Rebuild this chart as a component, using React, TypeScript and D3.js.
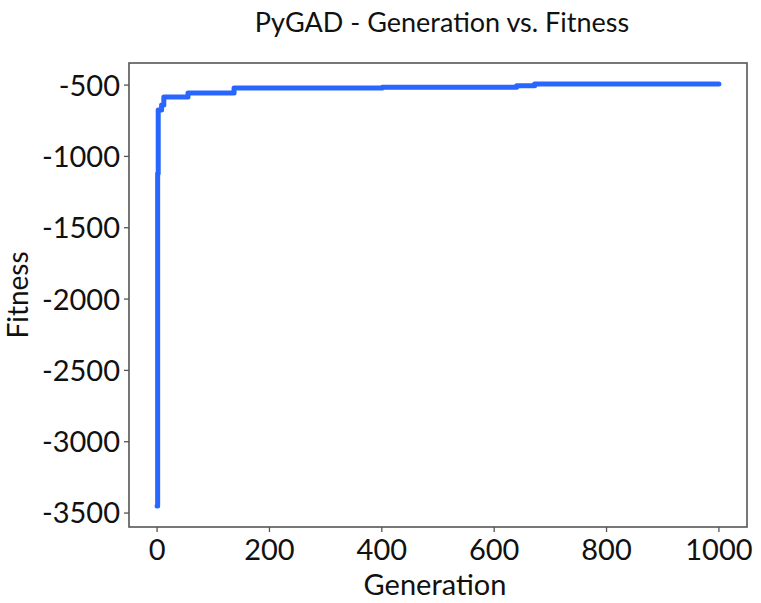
import React, { useEffect, useRef } from "react";
import * as d3 from "d3";

const generations = [0, 1, 2, 8, 12, 55, 137, 401, 640, 672, 1000];
const fitness = [-3450, -1120, -675, -640, -584, -556, -521, -516, -505, -493, -493];
const xTicks = [0, 200, 400, 600, 800, 1000];
const yTicks = [-3500, -3000, -2500, -2000, -1500, -1000, -500];
const title = "PyGAD - Generation vs. Fitness";
const xLabel = "Generation";
const yLabel = "Fitness";

const W = 761;
const H = 603;
const M = { left: 129, right: 14, top: 63, bottom: 76 };
const FONT = "Lato, 'Open Sans', sans-serif";

export default function App() {
  const ref = useRef<SVGSVGElement | null>(null);

  useEffect(() => {
    const svg = d3.select(ref.current);
    svg.selectAll("*").remove();
    const x0 = M.left, x1 = W - M.right, y0 = M.top, y1 = H - M.bottom;

    const xs = d3.scaleLinear().domain([-50, 1050]).range([x0, x1]);
    const yMin = d3.min(fitness) as number;
    const yMax = d3.max(fitness) as number;
    const pad = (yMax - yMin) * 0.05;
    const ys = d3.scaleLinear().domain([yMin - pad, yMax + pad]).range([y1, y0]);

    svg.append("rect").attr("width", W).attr("height", H).attr("fill", "#fff");

    // title
    svg.append("text").attr("x", 442).attr("y", 32).attr("text-anchor", "middle")
      .attr("font-family", FONT).attr("font-size", 27).attr("fill", "#111").text(title);

    // line
    const pts = generations.map((g, i) => [g, fitness[i]] as [number, number]);
    const line = d3.line<[number, number]>()
      .x((d) => xs(d[0]))
      .y((d) => ys(d[1]))
      .curve(d3.curveStepAfter);
    svg.append("path").attr("d", line(pts) as string).attr("fill", "none")
      .attr("stroke", "#2866ff").attr("stroke-width", 5)
      .attr("stroke-linejoin", "round").attr("stroke-linecap", "round");

    // frame
    svg.append("rect").attr("x", x0).attr("y", y0).attr("width", x1 - x0).attr("height", y1 - y0)
      .attr("fill", "none").attr("stroke", "#555").attr("stroke-width", 1.6);

    // x axis
    const xAxis = svg.append("g");
    xTicks.forEach((t) => {
      xAxis.append("line").attr("x1", xs(t)).attr("x2", xs(t)).attr("y1", y1).attr("y2", y1 + 5)
        .attr("stroke", "#555").attr("stroke-width", 1.3);
      xAxis.append("text").attr("x", xs(t)).attr("y", y1 + 33).attr("text-anchor", "middle")
        .attr("font-family", FONT).attr("font-size", 29).attr("fill", "#111").text(String(t));
    });
    // y axis
    const yAxis = svg.append("g");
    yTicks.forEach((t) => {
      yAxis.append("line").attr("x1", x0 - 5).attr("x2", x0).attr("y1", ys(t)).attr("y2", ys(t))
        .attr("stroke", "#555").attr("stroke-width", 1.3);
      yAxis.append("text").attr("x", x0 - 9).attr("y", ys(t)).attr("dy", "0.36em")
        .attr("text-anchor", "end").attr("font-family", FONT).attr("font-size", 29)
        .attr("fill", "#111").text(String(t));
    });

    svg.append("text").attr("x", 435).attr("y", 595).attr("text-anchor", "middle")
      .attr("font-family", FONT).attr("font-size", 29).attr("fill", "#111").text(xLabel);
    svg.append("text").attr("transform", `translate(28,${(y0 + y1) / 2}) rotate(-90)`)
      .attr("text-anchor", "middle").attr("font-family", FONT).attr("font-size", 28)
      .attr("fill", "#111").text(yLabel);
  }, []);

  return (
    <svg ref={ref} width={W} height={H}
      style={{ position: "absolute", left: 0, top: 0, display: "block" }} />
  );
}
